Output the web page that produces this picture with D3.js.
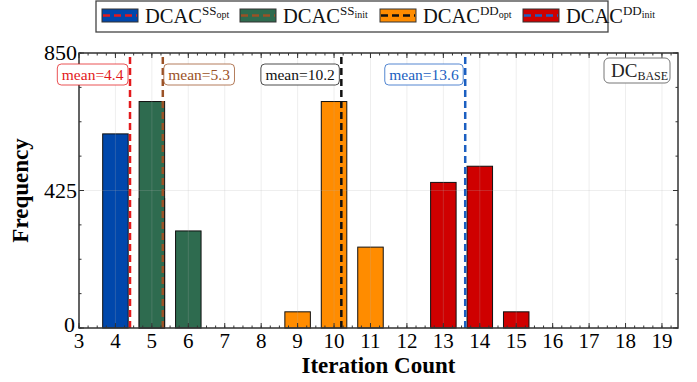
<!DOCTYPE html>
<html>
<head>
<meta charset="utf-8">
<script src="https://cdn.jsdelivr.net/npm/d3@7"></script>
<style>
  body { margin: 0; background: #fff; }
  text { font-family: "Liberation Serif", "DejaVu Serif", serif; }
</style>
</head>
<body>
<script>
// histogram data: iteration count -> frequency (1000 runs each)
const ssOptIter = [4, 5];
const ssOptFreq = [600, 400];
const ssInitIter = [5, 6];
const ssInitFreq = [700, 300];
const ddOptIter = [9, 10, 11];
const ddOptFreq = [50, 700, 250];
const ddInitIter = [13, 14, 15];
const ddInitFreq = [450, 500, 50];
const meanValues = [4.4, 5.3, 10.2, 13.6];
const xTicks = [3, 4, 5, 6, 7, 8, 9, 10, 11, 12, 13, 14, 15, 16, 17, 18, 19];
const yTicks = [0, 425, 850];

const series = [
  {sup: "SS", sub: "opt", iter: ssOptIter, freq: ssOptFreq, fill: "#0047ab", line: "#e3191c", mean: meanValues[0], side: "left"},
  {sup: "SS", sub: "init", iter: ssInitIter, freq: ssInitFreq, fill: "#2e6b4f", line: "#9b5226", mean: meanValues[1], side: "right"},
  {sup: "DD", sub: "opt", iter: ddOptIter, freq: ddOptFreq, fill: "#ff8c00", line: "#111111", mean: meanValues[2], side: "left"},
  {sup: "DD", sub: "init", iter: ddInitIter, freq: ddInitFreq, fill: "#cf0000", line: "#1b5fc1", mean: meanValues[3], side: "left"}
];

const W = 697, H = 382;
const m = {left: 79, right: 19, top: 53, bottom: 54};
const svg = d3.select("body").append("svg").attr("width", W).attr("height", H);

const x = d3.scaleLinear().domain([3, 19.44]).range([m.left, W - m.right]);
const y = d3.scaleLinear().domain([0, 850]).range([H - m.bottom, m.top]);
const barW = 0.7;

// bars
series.forEach(s => {
  svg.append("g").selectAll("rect")
    .data(s.iter.map((v, i) => ({x: v, f: s.freq[i]})))
    .enter().append("rect")
    .attr("x", d => x(d.x - barW / 2))
    .attr("y", d => y(d.f))
    .attr("width", x(barW) - x(0))
    .attr("height", d => y(0) - y(d.f))
    .attr("fill", s.fill)
    .attr("stroke", "#111")
    .attr("stroke-width", 1);
});

// grid (drawn over bars, very faint)
const grid = svg.append("g").attr("stroke", "#b0b0b0").attr("stroke-opacity", 0.22).attr("stroke-width", 1);
grid.selectAll("line.v").data(xTicks).enter().append("line")
  .attr("x1", d => x(d)).attr("x2", d => x(d)).attr("y1", y(0)).attr("y2", y(850));
grid.selectAll("line.h").data(yTicks).enter().append("line")
  .attr("x1", x(3)).attr("x2", x(19.44)).attr("y1", d => y(d)).attr("y2", d => y(d));

// mean lines
series.forEach(s => {
  svg.append("line")
    .attr("x1", x(s.mean)).attr("x2", x(s.mean))
    .attr("y1", y(0)).attr("y2", y(850))
    .attr("stroke", s.line).attr("stroke-width", 2.5)
    .attr("stroke-dasharray", "7,4");
});

// axes with inward ticks on all sides
const minorX = d3.range(3, 19.45, 0.25);
const minorY = d3.range(0, 851, 106.25);
const frame = svg.append("g").attr("stroke", "#333");
function tickSet(vals, len, isX) {
  vals.forEach(v => {
    if (isX) {
      frame.append("line").attr("x1", x(v)).attr("x2", x(v)).attr("y1", y(0)).attr("y2", y(0) - len);
      frame.append("line").attr("x1", x(v)).attr("x2", x(v)).attr("y1", y(850)).attr("y2", y(850) + len);
    } else {
      frame.append("line").attr("y1", y(v)).attr("y2", y(v)).attr("x1", x(3)).attr("x2", x(3) + len);
      frame.append("line").attr("y1", y(v)).attr("y2", y(v)).attr("x1", x(19.44)).attr("x2", x(19.44) - len);
    }
  });
}
tickSet(minorX, 2.5, true);
tickSet(xTicks, 5, true);
tickSet(minorY, 2.5, false);
tickSet(yTicks, 5, false);
svg.append("rect")
  .attr("x", x(3)).attr("y", y(850))
  .attr("width", x(19.44) - x(3)).attr("height", y(0) - y(850))
  .attr("fill", "none").attr("stroke", "#333").attr("stroke-width", 1.5);

svg.append("g").selectAll("text").data(xTicks).enter().append("text")
  .attr("x", d => x(d)).attr("y", y(0) + 20)
  .attr("text-anchor", "middle").attr("font-size", 21).text(d => d);
svg.append("g").selectAll("text").data(yTicks).enter().append("text")
  .attr("x", d => d === 0 ? x(3) - 4 : x(3) - 2)
  .attr("y", d => d === 0 ? y(d) + 4 : y(d) + 7)
  .attr("text-anchor", "end").attr("font-size", 22).text(d => d);

svg.append("text").attr("x", (x(3) + x(19.44)) / 2).attr("y", 373)
  .attr("text-anchor", "middle").attr("font-size", 23).attr("font-weight", "bold")
  .text("Iteration Count");
svg.append("text").attr("transform", `translate(28,${(y(0) + y(850)) / 2}) rotate(-90)`)
  .attr("text-anchor", "middle").attr("font-size", 23).attr("font-weight", "bold")
  .text("Frequency");

// mean labels
series.forEach(s => {
  const g = svg.append("g");
  const t = g.append("text").attr("y", 80).attr("font-size", 15.5).attr("fill", s.line)
    .text("mean=" + s.mean);
  const tw = t.node().getComputedTextLength();
  const bw = tw + 9, bh = 21;
  const bx = s.side === "left" ? x(s.mean) - bw - 2 : x(s.mean) + 1;
  t.attr("x", bx + 4.5);
  g.insert("rect", "text").attr("x", bx).attr("y", 64).attr("width", bw).attr("height", bh)
    .attr("rx", 4).attr("fill", "#fff").attr("stroke", s.line).attr("stroke-opacity", 0.75);
});

// DC_BASE annotation
const base = svg.append("g");
base.append("rect").attr("x", 604).attr("y", 58).attr("width", 66).attr("height", 25)
  .attr("rx", 5).attr("fill", "#fff").attr("stroke", "#777");
const bt = base.append("text").attr("x", 611).attr("y", 77).attr("font-size", 19).attr("fill", "#222");
bt.append("tspan").text("DC");
bt.append("tspan").attr("font-size", 12).attr("dy", 3).text("BASE");

// legend
const leg = svg.append("g");
leg.append("rect").attr("x", 96).attr("y", 1).attr("width", 512).attr("height", 31)
  .attr("fill", "#fff").attr("stroke", "#444").attr("stroke-width", 1.3);
const legX = [102, 240, 380, 523];
series.forEach((s, i) => {
  const lx = legX[i];
  leg.append("rect").attr("x", lx).attr("y", 9).attr("width", 36).attr("height", 13)
    .attr("fill", s.fill).attr("stroke", "#333");
  leg.append("line").attr("x1", lx + 1).attr("x2", lx + 35).attr("y1", 15.5).attr("y2", 15.5)
    .attr("stroke", s.line).attr("stroke-width", 2.5).attr("stroke-dasharray", "7,4");
  const t = leg.append("text").attr("x", lx + 43).attr("y", 23).attr("font-size", 20.5).attr("fill", "#111");
  t.append("tspan").text("DCAC");
  t.append("tspan").attr("font-size", 13).attr("dy", -8).text(s.sup);
  t.append("tspan").attr("font-size", 10).attr("dy", 3).text(s.sub);
});
</script>
</body>
</html>
